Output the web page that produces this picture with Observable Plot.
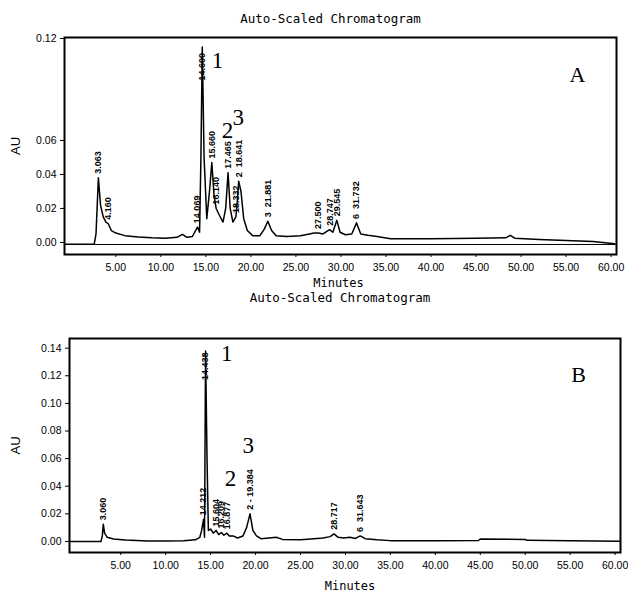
<!DOCTYPE html>
<html><head><meta charset="utf-8">
<script src="https://cdn.jsdelivr.net/npm/d3@7"></script>
<script src="https://cdn.jsdelivr.net/npm/@observablehq/plot@0.6"></script>
<style>
body{margin:0;background:#fff;}
#c{width:628px;height:594px;overflow:hidden;}
svg{display:block;}
</style>
</head><body><div id="c"></div>
<script>
// ---- texts ----
const titleText = "Auto-Scaled Chromatogram";
const xLabelText = "Minutes";
const yLabelText = "AU";
const xTicks = [5, 10, 15, 20, 25, 30, 35, 40, 45, 50, 55, 60];

// ---- panel A ----
const timesA = [-0.6, 2.6, 2.8, 3.063, 3.3, 3.6, 3.9, 4.16, 4.5, 5.0, 6.0, 7.5, 9.0, 10.5, 11.8, 12.4, 12.9, 13.5, 14.069, 14.3, 14.45, 14.6, 14.8, 15.1, 15.4, 15.66, 15.9, 16.14, 16.5, 16.9, 17.2, 17.465, 17.7, 18.0, 18.332, 18.5, 18.641, 18.9, 19.2, 19.6, 20.2, 21.0, 21.5, 21.881, 22.3, 22.8, 24, 25.5, 26.5, 27.0, 27.5, 28.0, 28.747, 29.1, 29.545, 29.9, 30.5, 31.2, 31.732, 32.2, 33, 34, 35.5, 40, 45, 48.3, 48.8, 49.3, 52, 55, 58, 60.4];
const auA = [-0.001, -0.001, 0.005, 0.038, 0.022, 0.015, 0.012, 0.011, 0.007, 0.0055, 0.004, 0.0032, 0.0027, 0.0025, 0.003, 0.0048, 0.003, 0.0035, 0.009, 0.006, 0.05, 0.115, 0.05, 0.014, 0.03, 0.047, 0.028, 0.02, 0.016, 0.012, 0.02, 0.041, 0.02, 0.012, 0.015, 0.025, 0.036, 0.03, 0.014, 0.007, 0.004, 0.004, 0.008, 0.0125, 0.007, 0.004, 0.0035, 0.004, 0.005, 0.0055, 0.0055, 0.005, 0.0075, 0.006, 0.013, 0.006, 0.0045, 0.005, 0.0115, 0.005, 0.0042, 0.0035, 0.0022, 0.0022, 0.0025, 0.0027, 0.0042, 0.0025, 0.0018, 0.0012, 0.0005, -0.0008];
const peakTimesA = [3.063, 4.16, 14.069, 14.6, 15.66, 16.14, 17.465, 18.332, 18.641, 21.881, 27.5, 28.747, 29.545, 31.732];
const peakAuA = [0.038, 0.011, 0.009, 0.115, 0.047, 0.02, 0.041, 0.015, 0.036, 0.0125, 0.0055, 0.0075, 0.013, 0.0115];
const peakLabelsA = ["3.063", "4.160", "14.069", "14.600", "15.660", "16.140", "17.465", "18.332", "2  18.641", "3  21.881", "27.500", "28.747", "29.545", "6  31.732"];
const yTicksA = [0, 0.02, 0.04, 0.06, 0.12];
const compoundNamesA = ["1", "2", "3"];
const compoundTA = [16.3, 17.4, 18.6];
const compoundAuA = [0.107, 0.066, 0.0735];
const baselineA = -0.0012;

// ---- panel B ----
const timesB = [-0.6, 2.8, 2.95, 3.06, 3.2, 3.5, 4.2, 5.5, 8, 10, 12, 13.3, 13.8, 14.0, 14.212, 14.32, 14.438, 14.6, 14.75, 15.0, 15.3, 15.6, 15.9, 16.2, 16.477, 16.8, 17.077, 17.5, 18.0, 18.6, 19.0, 19.384, 19.7, 20.1, 20.6, 21.5, 22.3, 23, 25, 26.5, 27.5, 28.3, 28.717, 29.2, 29.8, 30.5, 31.1, 31.643, 32.2, 33.5, 35, 40, 44.8, 45, 50, 50.2, 55, 60.5];
const auB = [0.0, 0.0, 0.004, 0.0125, 0.006, 0.003, 0.0018, 0.001, 0.0004, 0.0003, 0.0005, 0.0012, 0.003, 0.008, 0.016, 0.003, 0.138, 0.06, 0.008, 0.009, 0.006, 0.008, 0.005, 0.0065, 0.0045, 0.006, 0.004, 0.004, 0.0025, 0.004, 0.01, 0.02, 0.008, 0.004, 0.002, 0.0025, 0.003, 0.0015, 0.0012, 0.002, 0.0025, 0.0035, 0.0055, 0.003, 0.0025, 0.003, 0.0022, 0.004, 0.002, 0.0012, 0.0006, 0.0006, 0.0007, 0.0018, 0.0014, 0.0008, 0.0005, 0.0002];
const peakTimesB = [3.06, 14.212, 14.438, 15.6, 16.2, 16.8, 19.384, 28.717, 31.643];
const peakAuB = [0.0125, 0.016, 0.138, 0.008, 0.0065, 0.006, 0.02, 0.0055, 0.004];
const peakLabelsB = ["3.060", "14.212", "14.438", "15.604", "16.209", "16.877", "2 - 19.384", "28.717", "6  31.643"];
const yTicksB = [0, 0.02, 0.04, 0.06, 0.08, 0.10, 0.12, 0.14];
const compoundNamesB = ["1", "2", "3"];
const compoundTB = [16.8, 17.2, 19.2];
const compoundAuB = [0.136, 0.0457, 0.0696];

const sans = "'Liberation Sans',Arial,sans-serif";
const mono = "'DejaVu Sans Mono','Liberation Mono',monospace";
const serif = "'Liberation Serif','DejaVu Serif',serif";

function panel(o) {
  const trace = o.times.map((t, i) => ({t, v: o.au[i]}));
  const peaks = o.peakT.map((t, i) => ({t, v: o.peakAu[i], label: o.peakLabels[i]}));
  const comps = o.compT.map((t, i) => ({t, v: o.compAu[i], name: o.compNames[i]}));
  const marks = [];
  if (o.baseline != null) marks.push(Plot.ruleY([o.baseline], {stroke: "#000", strokeWidth: 1}));
  marks.push(
    Plot.line(trace, {x: "t", y: "v", stroke: "#000", strokeWidth: 1.5, curve: "linear"}),
    Plot.text(peaks, {x: "t", y: d => Math.min(d.v, o.cap), text: "label", rotate: -90,
      textAnchor: "start", lineAnchor: "middle", dy: -4, fontSize: 9, fontWeight: "bold", fontFamily: sans, fill: "#000"}),
    Plot.text(comps, {x: "t", y: "v", text: "name", fontFamily: serif, fontSize: 23,
      textAnchor: "middle", lineAnchor: "middle", fill: "#000"}),
    Plot.frame({stroke: "#000", strokeWidth: 2}),
    Plot.text([titleText], {frameAnchor: "top", dy: o.titleDy, dx: o.titleDx, textAnchor: "middle",
      lineAnchor: "middle", fontFamily: mono, fontSize: 12.5, fill: "#000"}),
    Plot.text([xLabelText], {frameAnchor: "bottom", dy: o.minDy, dx: o.minDx, textAnchor: "middle",
      lineAnchor: "middle", fontFamily: mono, fontSize: 12, fill: "#000"}),
    Plot.text([yLabelText], {frameAnchor: "left", dx: o.auDx, rotate: -90, textAnchor: "middle",
      lineAnchor: "middle", fontFamily: sans, fontSize: 13, fill: "#000"}),
    Plot.text([o.letter], {frameAnchor: "top-right", dx: o.letterDx, dy: o.letterDy, textAnchor: "middle",
      lineAnchor: "middle", fontFamily: serif, fontSize: 22, fill: "#000"})
  );
  return Plot.plot({
    width: 628,
    height: o.height,
    marginTop: o.mt, marginBottom: o.mb, marginLeft: o.ml, marginRight: o.mr,
    style: {fontFamily: sans, fontSize: "10.5px", color: "#000", background: "#fff", overflow: "visible"},
    x: {domain: [-0.7, 60.6], ticks: xTicks, tickFormat: d3.format(".2f"), tickSize: 3, tickPadding: 6, label: null},
    y: {domain: o.yDomain, ticks: o.yTicks, tickFormat: d3.format(".2f"), tickSize: 4, tickPadding: 4, label: null},
    marks
  });
}

const c = document.getElementById("c");
c.append(panel({
  times: timesA, au: auA, peakT: peakTimesA, peakAu: peakAuA, peakLabels: peakLabelsA,
  compT: compoundTA, compAu: compoundAuA, compNames: compoundNamesA,
  yTicks: yTicksA, yDomain: [-0.0071, 0.1206], cap: 0.093, baseline: baselineA,
  letter: "A", height: 290, mt: 37, mb: 36, ml: 64, mr: 12,
  titleDy: -19, titleDx: -10, minDy: 29, minDx: -2, auDx: -49, letterDx: -39, letterDy: 37
}));
c.append(panel({
  times: timesB, au: auB, peakT: peakTimesB, peakAu: peakAuB, peakLabels: peakLabelsB,
  compT: compoundTB, compAu: compoundAuB, compNames: compoundNamesB,
  yTicks: yTicksB, yDomain: [-0.008, 0.147], cap: 0.114, baseline: null,
  letter: "B", height: 304, mt: 48, mb: 42, ml: 69, mr: 8,
  titleDy: -41, titleDx: -5, minDy: 34, minDx: 5, auDx: -54, letterDx: -42, letterDy: 36
}));
</script></body></html>
